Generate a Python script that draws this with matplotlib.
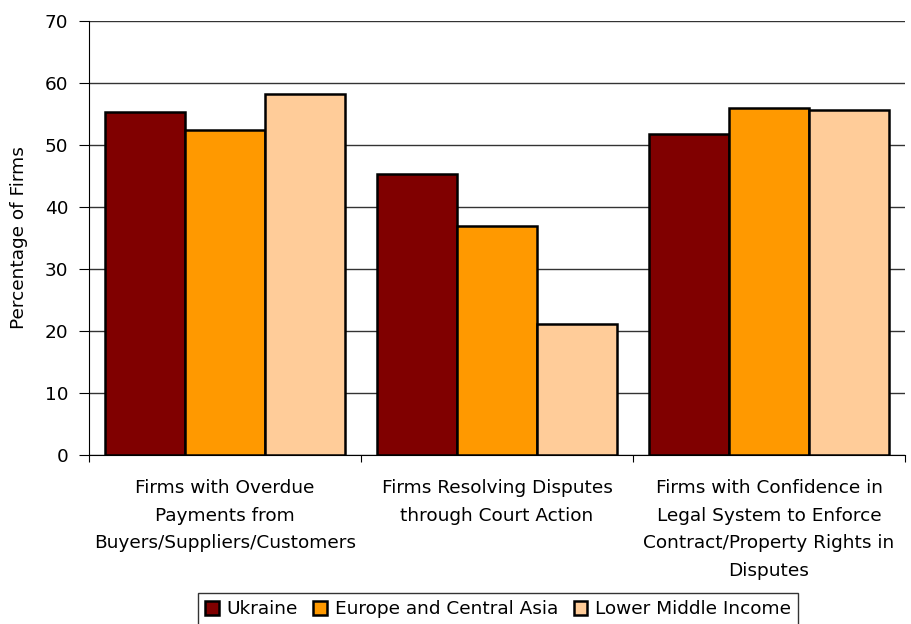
import numpy as np
import matplotlib
matplotlib.use("Agg")
import matplotlib.pyplot as plt

categories = [
    "Firms with Overdue\nPayments from\nBuyers/Suppliers/Customers",
    "Firms Resolving Disputes\nthrough Court Action",
    "Firms with Confidence in\nLegal System to Enforce\nContract/Property Rights in\nDisputes",
]
series_names = ["Ukraine", "Europe and Central Asia", "Lower Middle Income"]
ukraine = [55.4, 45.3, 51.8]
eca = [52.4, 37.0, 56.0]
lmi = [58.3, 21.2, 55.6]
colors = ["#800000", "#FF9900", "#FFCC99"]

plt.rcParams["font.family"] = ["DejaVu Sans"]
FS = 13.3

fig = plt.figure(figsize=(9.11, 6.24), dpi=100)
ax = fig.add_axes([89 / 911, 1 - 455 / 624, 816 / 911, 434 / 624])

x = np.arange(len(categories))
width = 0.294
for i, (vals, name, c) in enumerate(zip([ukraine, eca, lmi], series_names, colors)):
    ax.bar(x + (i - 1) * width, vals, width, color=c, edgecolor="black",
           linewidth=1.8, label=name, zorder=3)

ax.set_xlim(-0.5, 2.5)
ax.set_ylim(0, 70)
ax.set_yticks(range(0, 71, 10))
ax.yaxis.grid(True, color="#333333", linewidth=1.0, zorder=0)
ax.set_ylabel("Percentage of Firms", fontsize=FS, labelpad=12)
ax.tick_params(axis="y", labelsize=FS, direction="out", length=7, pad=8)

ax.set_xticks([-0.5, 0.5, 1.5, 2.5])
ax.set_xticklabels([])
ax.tick_params(axis="x", direction="out", length=5)
for xi, lab in zip(x, categories):
    ax.text(xi, -3.9, lab, ha="center", va="top", fontsize=FS, linespacing=1.68)

for s in ["top", "right"]:
    ax.spines[s].set_visible(False)
ax.spines["left"].set_color("black")
ax.spines["bottom"].set_color("black")

leg = fig.legend(loc="upper center", bbox_to_anchor=(498 / 911, 1 - 593 / 624), ncol=3,
                 fontsize=FS, frameon=True, fancybox=False, handlelength=0.75,
                 handleheight=0.75, handletextpad=0.4, columnspacing=0.85,
                 borderpad=0.4, borderaxespad=0)
leg.get_frame().set_edgecolor("black")
leg.get_frame().set_linewidth(1.0)

fig.savefig("out.png", dpi=100)
